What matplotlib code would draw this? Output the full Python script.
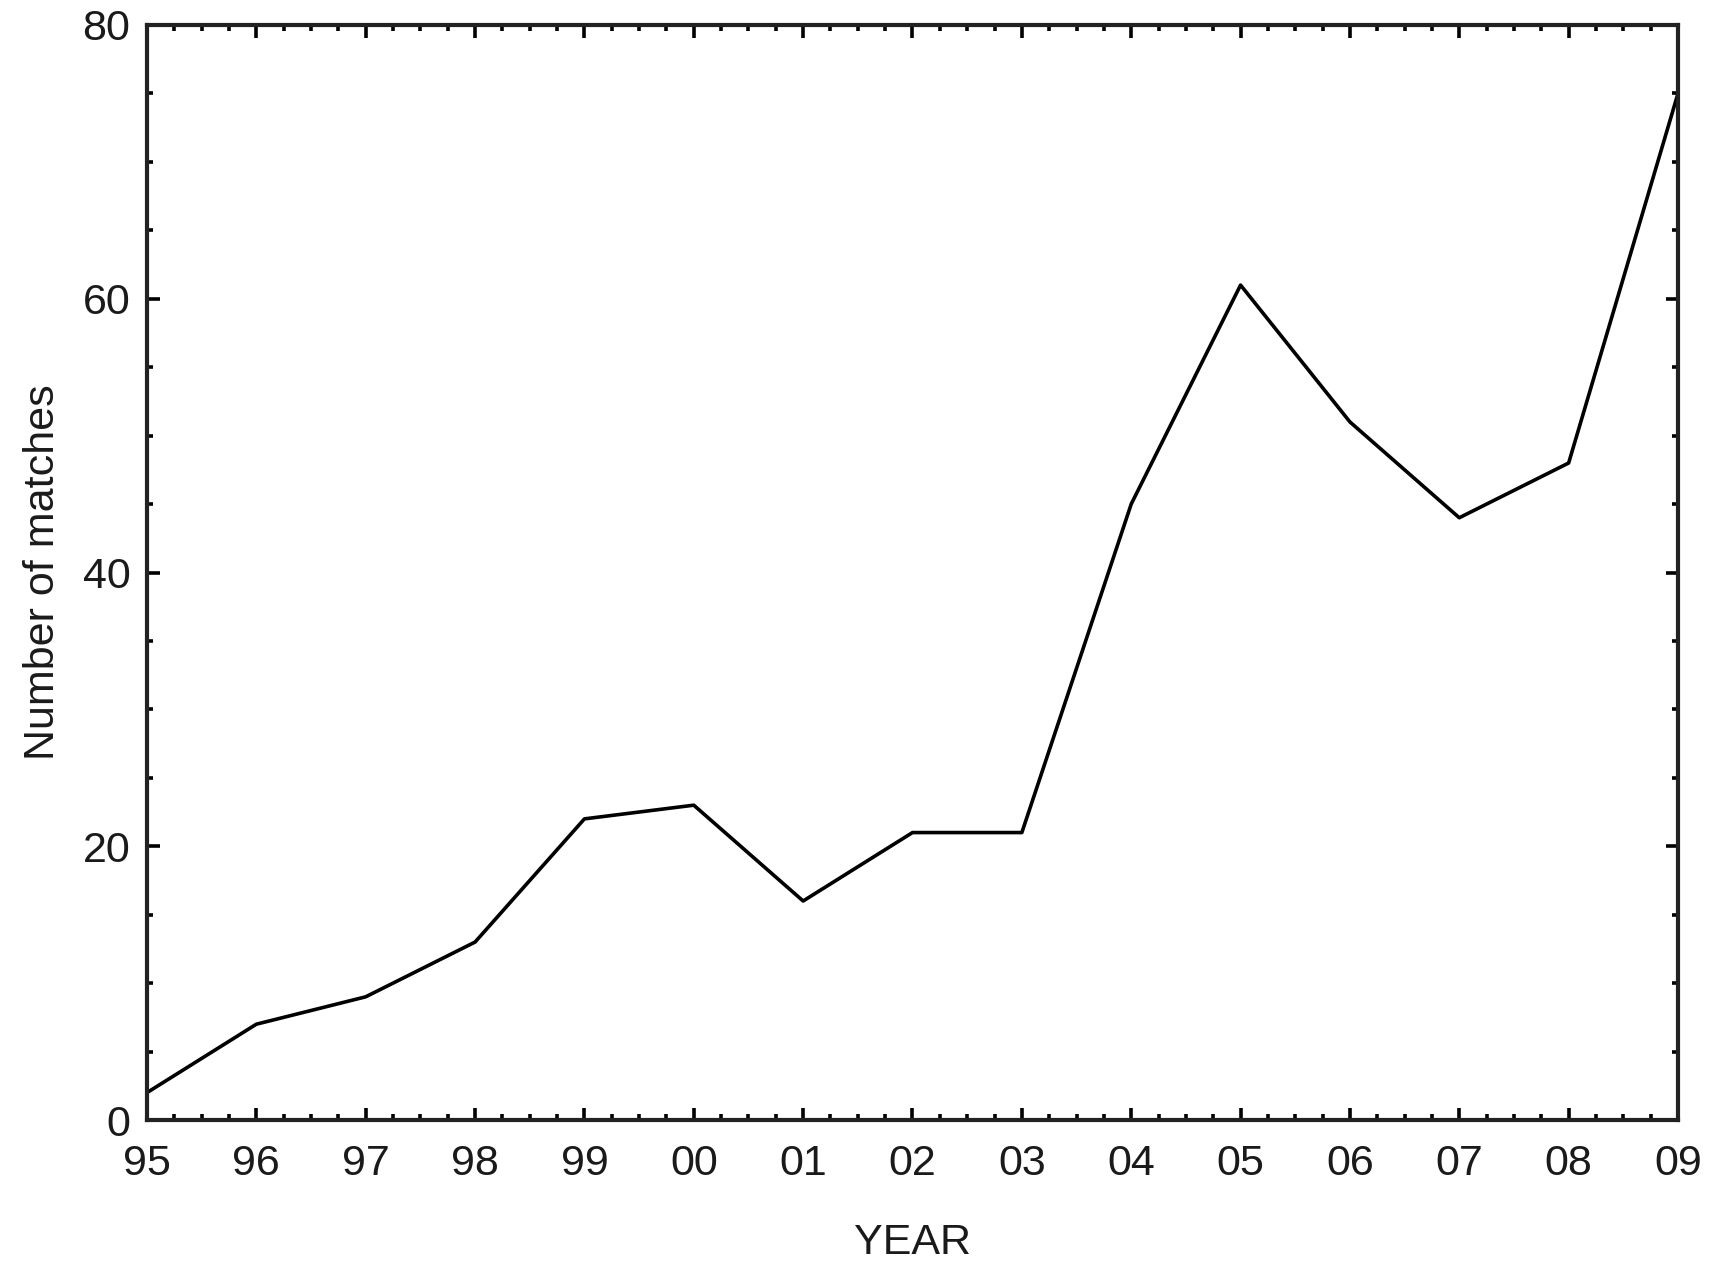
import numpy as np
import matplotlib
matplotlib.use("Agg")
import matplotlib.pyplot as plt
from matplotlib.ticker import MultipleLocator

years = ["95", "96", "97", "98", "99", "00", "01", "02", "03", "04", "05", "06", "07", "08", "09"]
matches = [2, 7, 9, 13, 22, 23, 16, 21, 21, 45, 61, 51, 44, 48, 75]

plt.rcParams["font.family"] = ["Liberation Sans", "DejaVu Sans"]
ink = "#1a1a1a"

fig = plt.figure(figsize=(17.18, 12.69), dpi=100)
ax = fig.add_axes([147 / 1718, 1 - 1120 / 1269, (1678 - 147) / 1718, (1120 - 25) / 1269])

x = np.arange(len(years))
ax.plot(x, matches, color="black", lw=2.6)

ax.set_xlim(0, len(years) - 1)
ax.set_ylim(0, 80)
ax.set_xticks(x)
ax.set_xticklabels(years)
ax.xaxis.set_minor_locator(MultipleLocator(0.25))
ax.set_yticks([0, 20, 40, 60, 80])
ax.yaxis.set_minor_locator(MultipleLocator(5))

ax.tick_params(which="both", direction="in", top=True, right=True, color="black",
               labelcolor=ink, labelsize=31)
ax.tick_params(which="major", length=9, width=2.6)
ax.tick_params(which="minor", length=4.5, width=2.6)
ax.tick_params(axis="x", pad=17)
ax.tick_params(axis="y", pad=12)

for s in ax.spines.values():
    s.set_linewidth(3)
    s.set_color("#222222")

ax.set_xlabel("YEAR", fontsize=31, color=ink)
ax.set_ylabel("Number of matches", fontsize=31, color=ink)
ax.xaxis.set_label_coords(0.5, -0.112)
ax.yaxis.set_label_coords(-0.068, 0.5)
ax.xaxis.label.set_va("center")
ax.yaxis.label.set_va("center")

fig.savefig("out.png", dpi=100)
